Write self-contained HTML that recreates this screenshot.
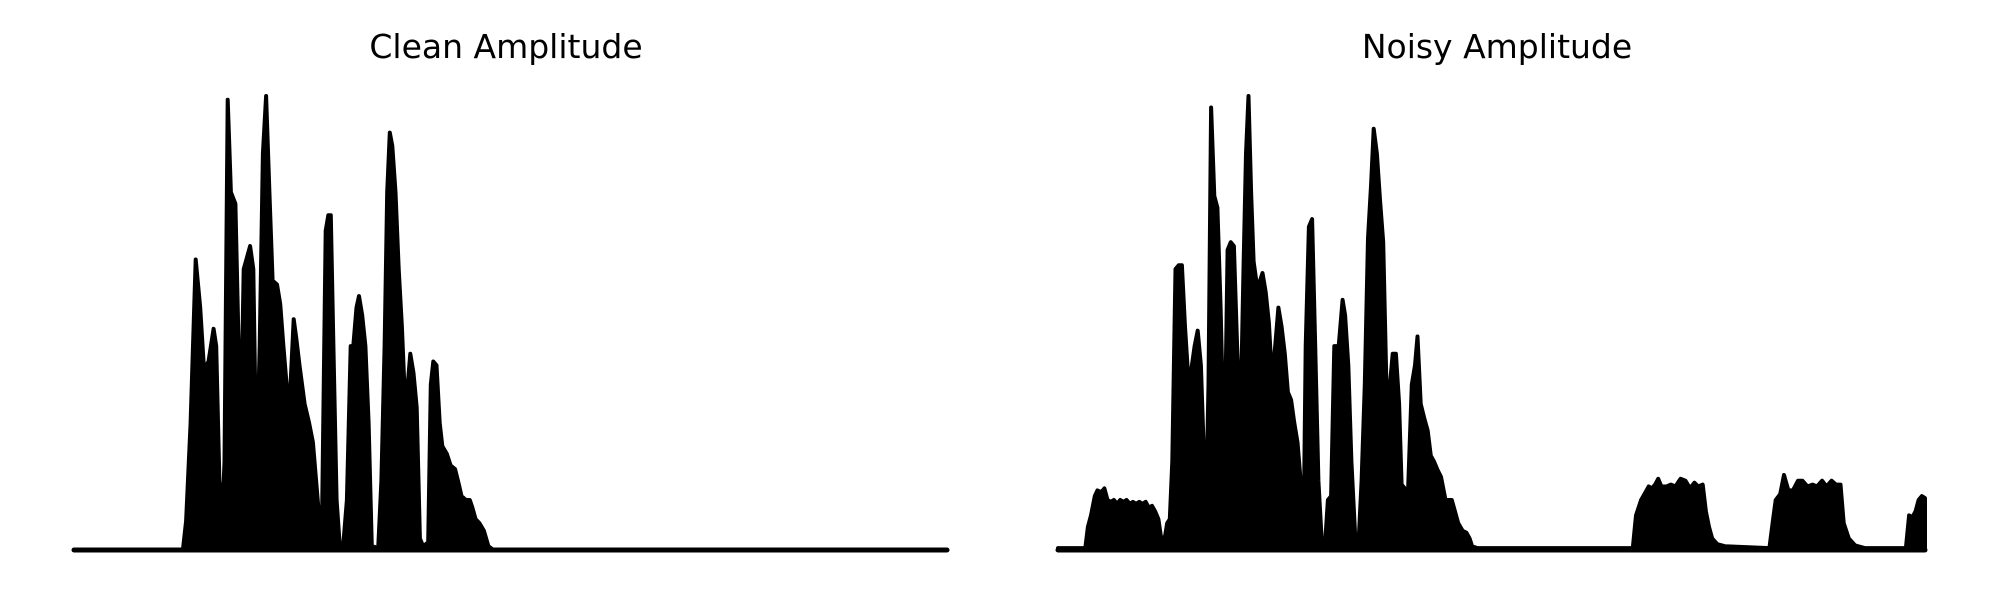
<!DOCTYPE html>
<html><head><meta charset="utf-8"><style>
html,body{margin:0;padding:0;background:#fff;}
svg{display:block;}
text{font-family:"DejaVu Sans","Liberation Sans",sans-serif;}
</style></head><body>
<svg id="chart" width="2000" height="600" viewBox="0 0 2000 600">
<text x="506" y="58" font-size="33" text-anchor="middle" fill="#000">Clean Amplitude</text>
<text x="1497" y="58" font-size="33" text-anchor="middle" fill="#000">Noisy Amplitude</text>
<g id="left"></g>
<g id="right"></g>
</svg>
<script>
const cleanT=[0,170,175,182,190,197,203,210,218,222,227,232,235,240,245,252,257,261,265,270,275,280,285,290,295,300,305,310,317,322,327,332,337,343,347,352,360,367,373,378,383,387,393,397,401,405,410,415,420,426,432,436,441,445,450,455,460,465,475,480,485,489,493,497,502,507,512,517,521,525,530,535,540,545,553,557,561,566,571,575,582,588,595,601,605,612,618,622,627,633,640,647,655,1363];
const cleanA=[0,0,75,330,755,630,470,490,575,530,180,100,230,1170,930,900,530,360,730,760,790,730,200,530,1030,1180,930,700,690,640,530,430,390,600,550,480,380,330,280,180,80,50,830,870,870,530,130,10,5,130,530,530,630,660,610,530,330,10,5,180,530,930,1085,1050,930,730,580,380,430,510,460,370,30,10,20,430,490,480,330,270,250,220,210,170,140,130,130,110,80,70,50,10,0,0];
const noisyT=[0,43,47,52,58,62,68,73,78,83,88,93,98,103,108,113,118,123,128,133,138,143,148,153,158,162,168,172,176,180,185,190,195,200,205,210,215,220,225,230,233,237,241,246,251,256,260,263,267,272,277,282,287,292,296,300,304,308,313,318,322,327,332,337,342,347,352,357,362,367,372,377,382,387,390,395,400,405,410,415,420,425,430,435,442,448,452,457,462,468,473,478,483,488,493,497,502,507,512,517,522,527,532,537,541,546,551,557,562,566,571,577,582,587,592,597,603,610,615,620,625,630,637,643,648,652,660,905,910,918,925,930,935,940,945,950,958,965,972,980,988,995,1002,1008,1015,1020,1025,1030,1038,1050,1120,1125,1130,1137,1143,1150,1157,1165,1172,1180,1188,1195,1203,1210,1218,1225,1232,1237,1245,1255,1270,1335,1340,1345,1350,1355,1360,1365];
const noisyA=[5,5,60,90,140,155,150,160,130,125,130,120,130,125,130,120,125,120,125,120,125,110,115,100,80,35,30,70,80,230,730,740,740,580,450,470,530,570,480,230,100,430,1150,920,890,630,360,330,780,800,790,530,310,730,1030,1180,930,750,690,700,720,670,590,440,530,630,580,510,410,390,330,280,180,85,530,840,860,530,180,30,5,130,140,530,530,650,610,480,230,30,10,180,430,810,950,1095,1030,910,800,430,420,510,510,380,170,160,150,430,480,555,380,340,310,245,230,210,190,130,130,130,100,70,50,45,30,10,5,5,90,130,150,165,160,170,185,165,165,170,165,185,180,160,175,165,170,100,60,30,15,10,5,70,130,145,195,155,155,180,180,165,170,165,180,165,180,170,170,70,30,12,5,5,90,85,100,130,140,135];
const ns='http://www.w3.org/2000/svg';
function draw(gid,T,A,tMax,x0,x1,name){
  const aMax=1180, yBase=550, yTop=96;
  const sx=t=>x0+t/tMax*(x1-x0);
  const sy=a=>yBase-a/aMax*(yBase-yTop);
  let pts=T.map((t,i)=>sx(t).toFixed(1)+','+sy(A[i]).toFixed(1));
  pts.push(sx(T[T.length-1]).toFixed(1)+','+yBase);
  pts.unshift(sx(T[0]).toFixed(1)+','+yBase);
  const p=document.createElementNS(ns,'polygon');
  p.setAttribute('points',pts.join(' '));
  p.setAttribute('fill','#000');p.setAttribute('stroke','#000');
  p.setAttribute('stroke-width','4');p.setAttribute('stroke-linejoin','round');
  
  
  document.getElementById(gid).appendChild(p);
  const l=document.createElementNS(ns,'line');
  l.setAttribute('x1',x0);l.setAttribute('x2',x1);l.setAttribute('y1',yBase);l.setAttribute('y2',yBase);
  l.setAttribute('stroke','#000');l.setAttribute('stroke-width','5');l.setAttribute('stroke-linecap','round');
  
  
  document.getElementById(gid).appendChild(l);
}
draw('left',cleanT,cleanA,1363,74,947,'clean-waveform');
draw('right',noisyT,noisyA,1365,1058,1925,'noisy-waveform');
</script>
</body></html>
